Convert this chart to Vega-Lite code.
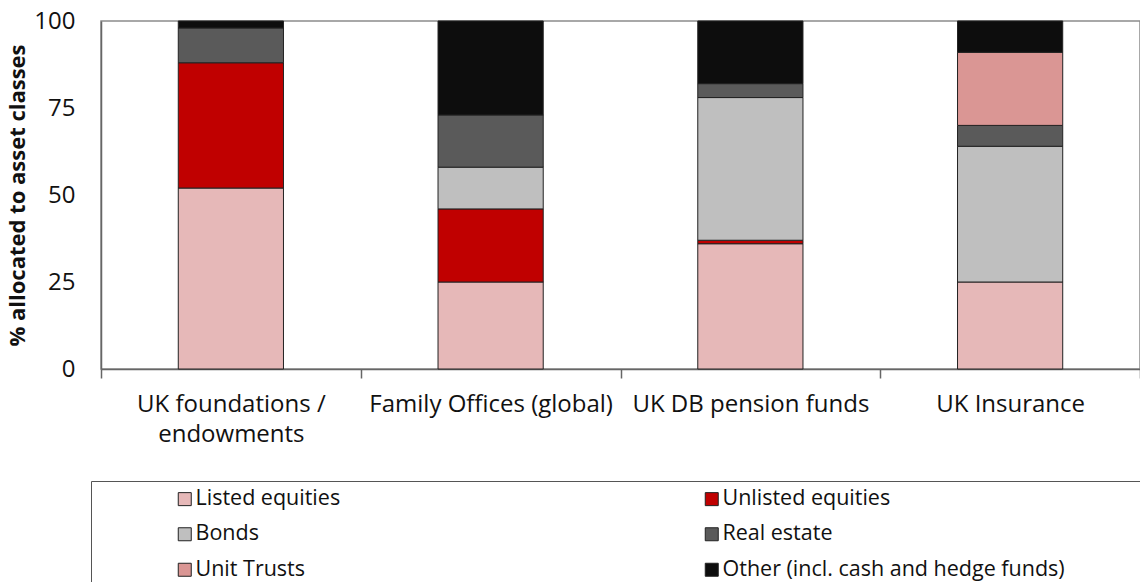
{
  "$schema": "https://vega.github.io/schema/vega-lite/v6.json",
  "width": 1039,
  "height": 348,
  "autosize": {"type": "none"},
  "padding": {"left": 101, "top": 21, "right": 0, "bottom": 213},
  "config": {
    "font": "Open Sans",
    "view": {"stroke": "#8c8c8c", "strokeWidth": 1.5}
  },
  "data": {
    "values": [
      {"group": "UK foundations / endowments", "asset": "Listed equities", "order": 1, "value": 52},
      {"group": "UK foundations / endowments", "asset": "Unlisted equities", "order": 2, "value": 36},
      {"group": "UK foundations / endowments", "asset": "Bonds", "order": 3, "value": 0},
      {"group": "UK foundations / endowments", "asset": "Real estate", "order": 4, "value": 10},
      {"group": "UK foundations / endowments", "asset": "Unit Trusts", "order": 5, "value": 0},
      {"group": "UK foundations / endowments", "asset": "Other (incl. cash and hedge funds)", "order": 6, "value": 2},
      {"group": "Family Offices (global)", "asset": "Listed equities", "order": 1, "value": 25},
      {"group": "Family Offices (global)", "asset": "Unlisted equities", "order": 2, "value": 21},
      {"group": "Family Offices (global)", "asset": "Bonds", "order": 3, "value": 12},
      {"group": "Family Offices (global)", "asset": "Real estate", "order": 4, "value": 15},
      {"group": "Family Offices (global)", "asset": "Unit Trusts", "order": 5, "value": 0},
      {"group": "Family Offices (global)", "asset": "Other (incl. cash and hedge funds)", "order": 6, "value": 27},
      {"group": "UK DB pension funds", "asset": "Listed equities", "order": 1, "value": 36},
      {"group": "UK DB pension funds", "asset": "Unlisted equities", "order": 2, "value": 1},
      {"group": "UK DB pension funds", "asset": "Bonds", "order": 3, "value": 41},
      {"group": "UK DB pension funds", "asset": "Real estate", "order": 4, "value": 4},
      {"group": "UK DB pension funds", "asset": "Unit Trusts", "order": 5, "value": 0},
      {"group": "UK DB pension funds", "asset": "Other (incl. cash and hedge funds)", "order": 6, "value": 18},
      {"group": "UK Insurance", "asset": "Listed equities", "order": 1, "value": 25},
      {"group": "UK Insurance", "asset": "Unlisted equities", "order": 2, "value": 0},
      {"group": "UK Insurance", "asset": "Bonds", "order": 3, "value": 39},
      {"group": "UK Insurance", "asset": "Real estate", "order": 4, "value": 6},
      {"group": "UK Insurance", "asset": "Unit Trusts", "order": 5, "value": 21},
      {"group": "UK Insurance", "asset": "Other (incl. cash and hedge funds)", "order": 6, "value": 9}
    ]
  },
  "transform": [{"filter": "datum.value > 0"}],
  "mark": {"type": "bar", "width": {"band": 0.405}, "stroke": "#222222", "strokeWidth": 1},
  "encoding": {
    "x": {
      "field": "group",
      "type": "nominal",
      "sort": ["UK foundations / endowments", "Family Offices (global)", "UK DB pension funds", "UK Insurance"],
      "scale": {"paddingInner": 0, "paddingOuter": 0},
      "axis": {
        "title": null,
        "labelAngle": 0,
        "labelFontSize": 24,
        "labelColor": "#111111",
        "labelPadding": 14,
        "labelLimit": 300,
        "labelLineHeight": 30,
        "labelExpr": "datum.label == 'UK foundations / endowments' ? ['UK foundations /', 'endowments'] : datum.label",
        "tickBand": "extent",
        "tickSize": 9,
        "tickColor": "#666666",
        "tickWidth": 1.5,
        "domainColor": "#666666",
        "domainWidth": 1.5
      }
    },
    "y": {
      "field": "value",
      "type": "quantitative",
      "stack": "zero",
      "scale": {"domain": [0, 100]},
      "axis": {
        "values": [0, 25, 50, 75, 100],
        "title": "% allocated to asset classes",
        "titleFontSize": 22,
        "titleFontWeight": "bold",
        "titleColor": "#111111",
        "titlePadding": 4,
        "labelFontSize": 24,
        "labelColor": "#111111",
        "labelPadding": 26,
        "ticks": false,
        "grid": false,
        "domainColor": "#666666",
        "domainWidth": 1.5
      }
    },
    "order": {"field": "order", "type": "quantitative"},
    "color": {
      "field": "asset",
      "type": "nominal",
      "sort": ["Listed equities", "Unlisted equities", "Bonds", "Real estate", "Unit Trusts", "Other (incl. cash and hedge funds)"],
      "scale": {
        "domain": ["Listed equities", "Unlisted equities", "Bonds", "Real estate", "Unit Trusts", "Other (incl. cash and hedge funds)"],
        "range": ["#E6B8B8", "#C00000", "#BFBFBF", "#5A5A5A", "#DA9694", "#0D0D0D"]
      },
      "legend": {
        "title": " ",
        "titleOrient": "right",
        "titlePadding": 80,
        "titleFontSize": 10,
        "orient": "none",
        "legendX": -10,
        "legendY": 460,
        "columns": 2,
        "direction": "horizontal",
        "strokeColor": "#555555",
        "padding": 7,
        "symbolType": "square",
        "symbolSize": 169,
        "symbolStrokeColor": "#222222",
        "symbolStrokeWidth": 1,
        "symbolOpacity": 1,
        "symbolOffset": 76,
        "labelFontSize": 21.5,
        "labelColor": "#111111",
        "labelOffset": 0,
        "labelLimit": 400,
        "rowPadding": 12.5,
        "columnPadding": 284
      }
    }
  }
}
